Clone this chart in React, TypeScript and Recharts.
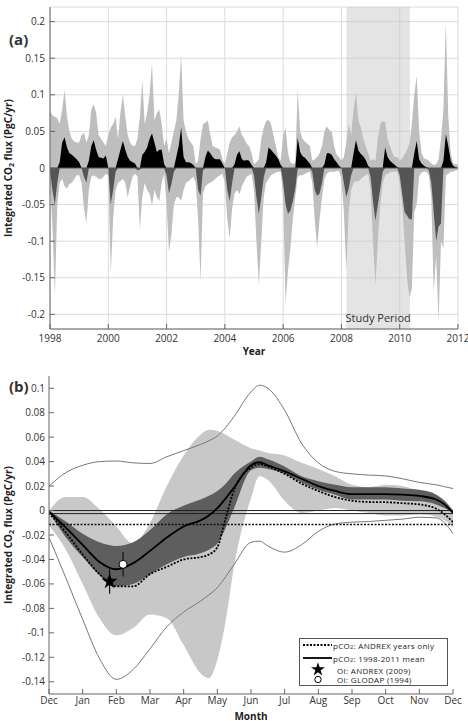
import React from 'react'
import {
  ComposedChart,
  Area,
  Line,
  Scatter,
  ErrorBar,
  XAxis,
  YAxis,
  CartesianGrid,
  ReferenceArea,
  ReferenceLine,
  Legend,
  Symbols,
} from 'recharts'

const FONT = "'Open Sans', 'DejaVu Sans', sans-serif"
const INK = '#333'

// ---------- (a) monthly integrated flux, Jan..Dec per year ----------
const years = [1998, 1999, 2000, 2001, 2002, 2003, 2004, 2005, 2006, 2007, 2008, 2009, 2010, 2011]

const fluxMean = [
  [-0.004, -0.03, -0.05, -0.02, 0.008, 0.035, 0.042, 0.028, 0.02, 0.018, 0.015, 0.012], // 1998
  [0.008, 0.0, -0.012, -0.02, 0.01, 0.03, 0.038, 0.025, 0.015, 0.014, 0.013, 0.017], // 1999
  [0.0, -0.05, -0.03, -0.005, 0.012, 0.025, 0.037, 0.025, 0.015, 0.01, 0.008, 0.006], // 2000
  [-0.003, -0.002, 0.018, 0.022, 0.028, 0.04, 0.047, 0.035, 0.022, 0.025, 0.025, 0.005], // 2001
  [-0.01, -0.035, -0.022, -0.005, 0.015, 0.03, 0.055, 0.015, 0.008, 0.008, 0.007, 0.004], // 2002
  [0.0, -0.03, -0.038, -0.003, 0.015, 0.024, 0.02, 0.015, 0.012, 0.012, 0.012, 0.006], // 2003
  [0.0, -0.03, -0.045, -0.02, 0.005, 0.018, 0.023, 0.012, 0.01, 0.011, 0.01, 0.004], // 2004
  [-0.01, -0.04, -0.063, -0.04, -0.013, 0.008, 0.028, 0.025, 0.021, 0.017, 0.012, 0.004], // 2005
  [-0.02, -0.05, -0.063, -0.058, -0.045, -0.028, 0.041, 0.022, 0.016, 0.014, 0.01, 0.006], // 2006
  [-0.005, -0.03, -0.038, -0.035, -0.02, 0.005, 0.02, 0.02, 0.018, 0.012, 0.008, 0.003], // 2007
  [0.0, -0.02, -0.04, -0.028, -0.01, 0.02, 0.038, 0.024, 0.019, 0.016, 0.011, 0.003], // 2008
  [-0.012, -0.045, -0.072, -0.05, -0.028, -0.005, 0.028, 0.015, 0.01, 0.007, 0.004, 0.001], // 2009
  [-0.01, -0.035, -0.06, -0.065, -0.07, -0.07, 0.02, 0.037, 0.012, 0.006, 0.003, 0.001], // 2010
  [-0.003, -0.02, -0.06, -0.1, -0.08, -0.076, 0.01, 0.046, 0.03, 0.01, 0.003, 0.001], // 2011
]

const fluxMax = [
  [0.078, 0.072, 0.07, 0.068, 0.06, 0.08, 0.107, 0.07, 0.05, 0.04, 0.036, 0.035],
  [0.035, 0.045, 0.048, 0.035, 0.045, 0.08, 0.087, 0.075, 0.045, 0.04, 0.035, 0.03],
  [0.045, 0.055, 0.06, 0.07, 0.04, 0.075, 0.1, 0.07, 0.045, 0.035, 0.03, 0.03],
  [0.04, 0.07, 0.12, 0.06, 0.075, 0.1, 0.143, 0.065, 0.075, 0.08, 0.06, 0.03],
  [0.04, 0.02, 0.035, 0.05, 0.065, 0.1, 0.155, 0.065, 0.05, 0.04, 0.035, 0.03],
  [0.005, 0.01, 0.04, 0.06, 0.062, 0.065, 0.045, 0.03, 0.028, 0.027, 0.025, 0.012],
  [0.005, 0.02, 0.035, 0.042, 0.045, 0.05, 0.057, 0.045, 0.04, 0.033, 0.03, 0.02],
  [0.005, 0.008, 0.012, 0.04, 0.055, 0.064, 0.066, 0.06, 0.045, 0.03, 0.015, 0.01],
  [0.045, 0.055, 0.02, 0.008, 0.005, 0.008, 0.107, 0.05, 0.04, 0.036, 0.033, 0.03],
  [0.01, 0.012, 0.015, 0.02, 0.03, 0.05, 0.057, 0.052, 0.05, 0.03, 0.018, 0.015],
  [0.01, 0.015, 0.035, 0.06, 0.045, 0.08, 0.103, 0.065, 0.055, 0.04, 0.03, 0.02],
  [0.01, 0.012, 0.01, 0.04, 0.06, 0.064, 0.063, 0.04, 0.03, 0.02, 0.015, 0.015],
  [0.01, 0.013, 0.018, 0.025, 0.033, 0.06, 0.1, 0.126, 0.05, 0.02, 0.013, 0.012],
  [0.01, 0.006, 0.004, 0.005, 0.012, 0.04, 0.08, 0.2, 0.07, 0.02, 0.006, 0.005],
]

const fluxMin = [
  [-0.02, -0.08, -0.175, -0.05, -0.02, -0.015, -0.025, -0.028, -0.022, -0.02, -0.015, -0.01],
  [-0.01, -0.02, -0.055, -0.075, -0.03, -0.012, -0.01, -0.012, -0.015, -0.015, -0.012, -0.008],
  [-0.01, -0.145, -0.07, -0.03, -0.02, -0.018, -0.015, -0.02, -0.04, -0.025, -0.012, -0.008],
  [-0.012, -0.083, -0.04, -0.02, -0.03, -0.035, -0.052, -0.03, -0.04, -0.045, -0.02, -0.008],
  [-0.05, -0.115, -0.09, -0.05, -0.04, -0.04, -0.045, -0.03, -0.02, -0.018, -0.015, -0.012],
  [-0.02, -0.07, -0.155, -0.035, -0.025, -0.022, -0.02, -0.018, -0.015, -0.012, -0.01, -0.008],
  [-0.02, -0.07, -0.095, -0.055, -0.035, -0.03, -0.036, -0.025, -0.018, -0.012, -0.01, -0.008],
  [-0.03, -0.1, -0.16, -0.1, -0.04, -0.02, -0.015, -0.01, -0.008, -0.006, -0.005, -0.005],
  [-0.04, -0.186, -0.14, -0.11, -0.07, -0.04, -0.012, -0.01, -0.01, -0.008, -0.006, -0.005],
  [-0.02, -0.07, -0.109, -0.07, -0.04, -0.015, -0.008, -0.005, -0.005, -0.005, -0.004, -0.004],
  [-0.015, -0.06, -0.14, -0.06, -0.03, -0.02, -0.018, -0.018, -0.015, -0.012, -0.01, -0.008],
  [-0.03, -0.1, -0.16, -0.1, -0.05, -0.02, -0.01, -0.008, -0.006, -0.005, -0.005, -0.005],
  [-0.02, -0.05, -0.1, -0.15, -0.177, -0.165, -0.06, -0.05, -0.012, -0.006, -0.005, -0.005],
  [-0.01, -0.04, -0.17, -0.12, -0.209, -0.1, -0.11, -0.01, -0.008, -0.005, -0.005, -0.003],
]

const recordEnd = { t: 2012, mean: 0, max: 0.005, min: -0.003 }

const fluxTicks = [-0.2, -0.15, -0.1, -0.05, 0, 0.05, 0.1, 0.15, 0.2]
const yearTicks = [1998, 2000, 2002, 2004, 2006, 2008, 2010, 2012]
const studyPeriod = { start: 2008.17, end: 2010.35, label: 'Study Period' }

const monthlyRows = years.flatMap((year, i) =>
  fluxMean[i].map((mean, m) => ({
    t: year + m / 12,
    range: [fluxMin[i][m], fluxMax[i][m]],
    pos: Math.max(mean, 0),
    neg: Math.min(mean, 0),
  })),
)
monthlyRows.push({
  t: recordEnd.t,
  range: [recordEnd.min, recordEnd.max],
  pos: Math.max(recordEnd.mean, 0),
  neg: Math.min(recordEnd.mean, 0),
})

// ---------- (b) seasonal climatology, Dec..Dec ----------
const monthPos = [0, 0.5, 1, 1.5, 2, 2.5, 3, 3.5, 4, 4.5, 4.75, 5, 5.25, 5.5, 6, 6.25, 6.5, 7, 7.5, 8, 8.5, 9, 9.5, 10, 10.5, 11, 11.5, 11.75, 12]
const monthTicks = [0, 1, 2, 3, 4, 5, 6, 7, 8, 9, 10, 11, 12]
const monthNames = ['Dec', 'Jan', 'Feb', 'Mar', 'Apr', 'May', 'Jun', 'Jul', 'Aug', 'Sep', 'Oct', 'Nov', 'Dec']
const climTicks = [-0.14, -0.12, -0.1, -0.08, -0.06, -0.04, -0.02, 0, 0.02, 0.04, 0.06, 0.08, 0.1]

const climMax = [0.02, 0.031, 0.037, 0.04, 0.0405, 0.039, 0.0385, 0.044, 0.049, 0.054, 0.057, 0.061, 0.068, 0.077, 0.097, 0.1025, 0.1, 0.082, 0.055, 0.039, 0.032, 0.03, 0.029, 0.0283, 0.026, 0.023, 0.021, 0.0195, 0.018]
const climMin = [-0.022, -0.055, -0.089, -0.121, -0.138, -0.13, -0.113, -0.095, -0.083, -0.074, -0.069, -0.063, -0.054, -0.044, -0.026, -0.025, -0.029, -0.034, -0.028, -0.017, -0.011, -0.0095, -0.009, -0.008, -0.007, -0.0055, -0.006, -0.01, -0.019]
const spreadUpper = [0.0, 0.011, 0.011, 0.001, -0.013, -0.027, -0.01, 0.02, 0.045, 0.062, 0.066, 0.065, 0.062, 0.058, 0.051, 0.049, 0.047, 0.045, 0.039, 0.034, 0.028, 0.021, 0.019, 0.021, 0.02, 0.016, 0.013, 0.008, 0.0]
const spreadLower = [-0.012, -0.032, -0.06, -0.088, -0.102, -0.096, -0.085, -0.088, -0.11, -0.133, -0.137, -0.122, -0.09, -0.045, 0.01, 0.028, 0.025, 0.008, -0.002, 0.0, 0.002, 0.0, -0.002, -0.004, -0.004, -0.003, -0.005, -0.008, -0.014]
const coreUpper = [0.0, -0.009, -0.019, -0.026, -0.029, -0.026, -0.016, -0.003, 0.004, 0.009, 0.012, 0.016, 0.022, 0.03, 0.04, 0.044, 0.042, 0.036, 0.028, 0.024, 0.021, 0.019, 0.019, 0.019, 0.018, 0.017, 0.013, 0.008, 0.0]
const coreLower = [-0.001, -0.022, -0.038, -0.053, -0.062, -0.06, -0.052, -0.044, -0.038, -0.035, -0.032, -0.027, -0.014, 0.002, 0.033, 0.035, 0.034, 0.03, 0.023, 0.017, 0.013, 0.009, 0.009, 0.009, 0.008, 0.0075, 0.005, 0.002, -0.002]
const climMean = [-0.001, -0.014, -0.028, -0.042, -0.048, -0.043, -0.033, -0.022, -0.013, -0.008, -0.004, 0.002, 0.01, 0.019, 0.037, 0.0395, 0.037, 0.032, 0.026, 0.02, 0.016, 0.0135, 0.0135, 0.0135, 0.013, 0.012, 0.009, 0.005, -0.002]
const andrexMean = [-0.002, -0.018, -0.036, -0.052, -0.062, -0.062, -0.052, -0.046, -0.04, -0.038, -0.036, -0.03, -0.006, 0.017, 0.035, 0.038, 0.036, 0.03, 0.022, 0.016, 0.011, 0.008, 0.007, 0.0068, 0.006, 0.005, 0.0015, -0.003, -0.0095]

const annualMean = -0.0025
const andrexAnnual = -0.0115
const andrexObs = [{ m: 1.8, v: -0.058, err: 0.01 }]
const glodapObs = [{ m: 2.2, v: -0.044, err: 0.01 }]
const legendLabels = [': ANDREX years only', ': 1998-2011 mean', 'OI: ANDREX (2009)', 'OI: GLODAP (1994)']

const climRows = monthPos.map((m, i) => ({
  m,
  max: climMax[i],
  min: climMin[i],
  spread: [spreadLower[i], spreadUpper[i]],
  core: [coreLower[i], coreUpper[i]],
  mean: climMean[i],
  andrex: andrexMean[i],
}))

const fmt = (v: number) => String(Math.round(v * 100) / 100)
const tickStyle = { fill: INK, fontSize: 10, fontFamily: FONT }
const frame = { stroke: '#666' }

function FluxTitle({ viewBox, tag, tagY }: any) {
  const cx = viewBox.x + 8
  const cy = viewBox.y + viewBox.height / 2
  return (
    <g>
      <text
        x={cx}
        y={cy}
        transform={`rotate(-90 ${cx} ${cy})`}
        textAnchor="middle"
        dominantBaseline="central"
        fill="#222"
        fontFamily={FONT}
        fontSize={10}
        fontWeight="bold"
      >
        Integrated CO<tspan fontSize={7} dy={3}>2</tspan>
        <tspan dy={-3}> flux (PgC/yr)</tspan>
      </text>
      <text x={viewBox.x + 9} y={tagY} dominantBaseline="central" fill={INK} fontFamily={FONT} fontSize={15} fontWeight="bold">
        {tag}
      </text>
    </g>
  )
}

function BottomTitle({ viewBox, text, dy }: any) {
  return (
    <text
      x={viewBox.x + viewBox.width / 2}
      y={viewBox.y + dy}
      textAnchor="middle"
      dominantBaseline="central"
      fill="#222"
      fontFamily={FONT}
      fontSize={10}
      fontWeight="bold"
    >
      {text}
    </text>
  )
}

function ClimLegend() {
  const txt = { fontFamily: FONT, fontSize: 8, letterSpacing: 0.3, fill: '#222', dominantBaseline: 'central' as const }
  return (
    <svg width={149} height={48} style={{ display: 'block' }}>
      <rect x={0.5} y={0.5} width={148} height={47} fill="#fff" stroke="#555" />
      <line x1={4} x2={33} y1={7} y2={7} stroke="#000" strokeWidth={1.8} strokeDasharray="2 1.5" />
      <text x={34} y={7} {...txt}>
        pCO<tspan fontSize={5.5} dy={2}>2</tspan>
        <tspan dy={-2}>{legendLabels[0]}</tspan>
      </text>
      <line x1={4} x2={33} y1={20} y2={20} stroke="#000" strokeWidth={1.8} />
      <text x={34} y={20} {...txt}>
        pCO<tspan fontSize={5.5} dy={2}>2</tspan>
        <tspan dy={-2}>{legendLabels[1]}</tspan>
      </text>
      <Symbols cx={19} cy={31.5} type="star" size={60} fill="#000" />
      <text x={38} y={32} {...txt}>{legendLabels[2]}</text>
      <circle cx={19} cy={41.5} r={3.2} fill="#fff" stroke="#000" />
      <text x={38} y={41.5} {...txt}>{legendLabels[3]}</text>
    </svg>
  )
}

export default function App() {
  return (
    <div style={{ position: 'absolute', left: 0, top: 0, width: 468, height: 721, background: '#fff' }}>
      <ComposedChart width={468} height={360} data={monthlyRows} margin={{ top: 7, right: 10, bottom: 9, left: 0 }}>
        <CartesianGrid stroke="#dcdcdc" />
        <ReferenceArea
          x1={studyPeriod.start}
          x2={studyPeriod.end}
          fill="#c4c4c4"
          fillOpacity={0.45}
          stroke="none"
          label={{ value: studyPeriod.label, position: 'insideBottom', offset: 7, fill: INK, fontSize: 11, fontFamily: FONT }}
        />
        <XAxis
          dataKey="t"
          type="number"
          domain={[1998, 2012]}
          ticks={yearTicks}
          allowDataOverflow
          height={22}
          tickSize={-5}
          tickMargin={11}
          tick={tickStyle}
          axisLine={frame}
          tickLine={frame}
          label={<BottomTitle text="Year" dy={22} />}
        />
        <XAxis xAxisId="top" orientation="top" dataKey="t" type="number" domain={[1998, 2012]} ticks={yearTicks} allowDataOverflow height={0} tick={false} tickSize={-5} axisLine={frame} tickLine={frame} />
        <YAxis
          type="number"
          domain={[-0.22, 0.22]}
          ticks={fluxTicks}
          allowDataOverflow
          width={50}
          tickSize={-5}
          tickMargin={10}
          tick={tickStyle}
          tickFormatter={fmt}
          axisLine={frame}
          tickLine={frame}
          label={<FluxTitle tag="(a)" tagY={39} />}
        />
        <YAxis yAxisId="right" orientation="right" type="number" domain={[-0.22, 0.22]} ticks={fluxTicks} allowDataOverflow width={0} tick={false} tickSize={-5} axisLine={frame} tickLine={frame} />
        <Area dataKey="range" type="linear" fill="#bebebe" fillOpacity={1} stroke="none" isAnimationActive={false} />
        <Area dataKey="pos" type="linear" baseValue={0} fill="#000" fillOpacity={1} stroke="none" isAnimationActive={false} />
        <Area dataKey="neg" type="linear" baseValue={0} fill="#555" fillOpacity={1} stroke="none" isAnimationActive={false} />
        <ReferenceLine y={0} stroke="#555" strokeWidth={1} />
      </ComposedChart>

      <ComposedChart width={468} height={361} data={climRows} margin={{ top: 16, right: 15, bottom: 5, left: 0 }}>
        <XAxis
          dataKey="m"
          type="number"
          domain={[0, 12]}
          ticks={monthTicks}
          allowDataOverflow
          height={22}
          tickSize={-5}
          tickMargin={8}
          tick={tickStyle}
          tickFormatter={(v: number) => monthNames[v]}
          axisLine={frame}
          tickLine={frame}
          label={<BottomTitle text="Month" dy={21.5} />}
        />
        <XAxis xAxisId="top" orientation="top" dataKey="m" type="number" domain={[0, 12]} ticks={monthTicks} allowDataOverflow height={0} tick={false} tickSize={-5} axisLine={frame} tickLine={frame} />
        <YAxis
          type="number"
          domain={[-0.15, 0.11]}
          ticks={climTicks}
          allowDataOverflow
          width={49}
          tickSize={-5}
          tickMargin={9}
          tick={tickStyle}
          tickFormatter={fmt}
          axisLine={frame}
          tickLine={frame}
          label={<FluxTitle tag="(b)" tagY={26} />}
        />
        <YAxis yAxisId="right" orientation="right" type="number" domain={[-0.15, 0.11]} ticks={climTicks} allowDataOverflow width={0} tick={false} tickSize={-5} axisLine={frame} tickLine={frame} />
        <Area dataKey="spread" type="monotone" fill="#c8c8c8" fillOpacity={1} stroke="none" isAnimationActive={false} />
        <Area dataKey="core" type="monotone" fill="#5e5e5e" fillOpacity={1} stroke="none" isAnimationActive={false} />
        <Line dataKey="max" type="monotone" stroke="#777" strokeWidth={1} dot={false} isAnimationActive={false} />
        <Line dataKey="min" type="monotone" stroke="#777" strokeWidth={1} dot={false} isAnimationActive={false} />
        <ReferenceLine y={0} stroke="#222" strokeWidth={1} />
        <ReferenceLine y={annualMean} stroke="#222" strokeWidth={1} />
        <ReferenceLine y={andrexAnnual} stroke="#111" strokeWidth={1.5} strokeDasharray="2 1.5" />
        <Line dataKey="andrex" type="monotone" stroke="#000" strokeWidth={1.8} strokeDasharray="2 1.5" dot={false} isAnimationActive={false} />
        <Line dataKey="mean" type="monotone" stroke="#000" strokeWidth={1.8} dot={false} isAnimationActive={false} />
        <Scatter
          data={andrexObs}
          dataKey="v"
          isAnimationActive={false}
          shape={(p: any) => <Symbols cx={p.cx} cy={p.cy} type="star" size={80} fill="#000" />}
        >
          <ErrorBar dataKey="err" direction="y" width={0} stroke="#111" strokeWidth={1.2} isAnimationActive={false} />
        </Scatter>
        <Scatter
          data={glodapObs}
          dataKey="v"
          isAnimationActive={false}
          shape={(p: any) => <circle cx={p.cx} cy={p.cy} r={4} fill="#fff" stroke="#000" strokeWidth={1} />}
        >
          <ErrorBar dataKey="err" direction="y" width={0} stroke="#111" strokeWidth={1.2} isAnimationActive={false} />
        </Scatter>
        <Legend
          layout="horizontal"
          verticalAlign="middle"
          align="center"
          wrapperStyle={{ left: 299, top: 278, width: 149, height: 48 }}
          content={() => <ClimLegend />}
        />
      </ComposedChart>
    </div>
  )
}
